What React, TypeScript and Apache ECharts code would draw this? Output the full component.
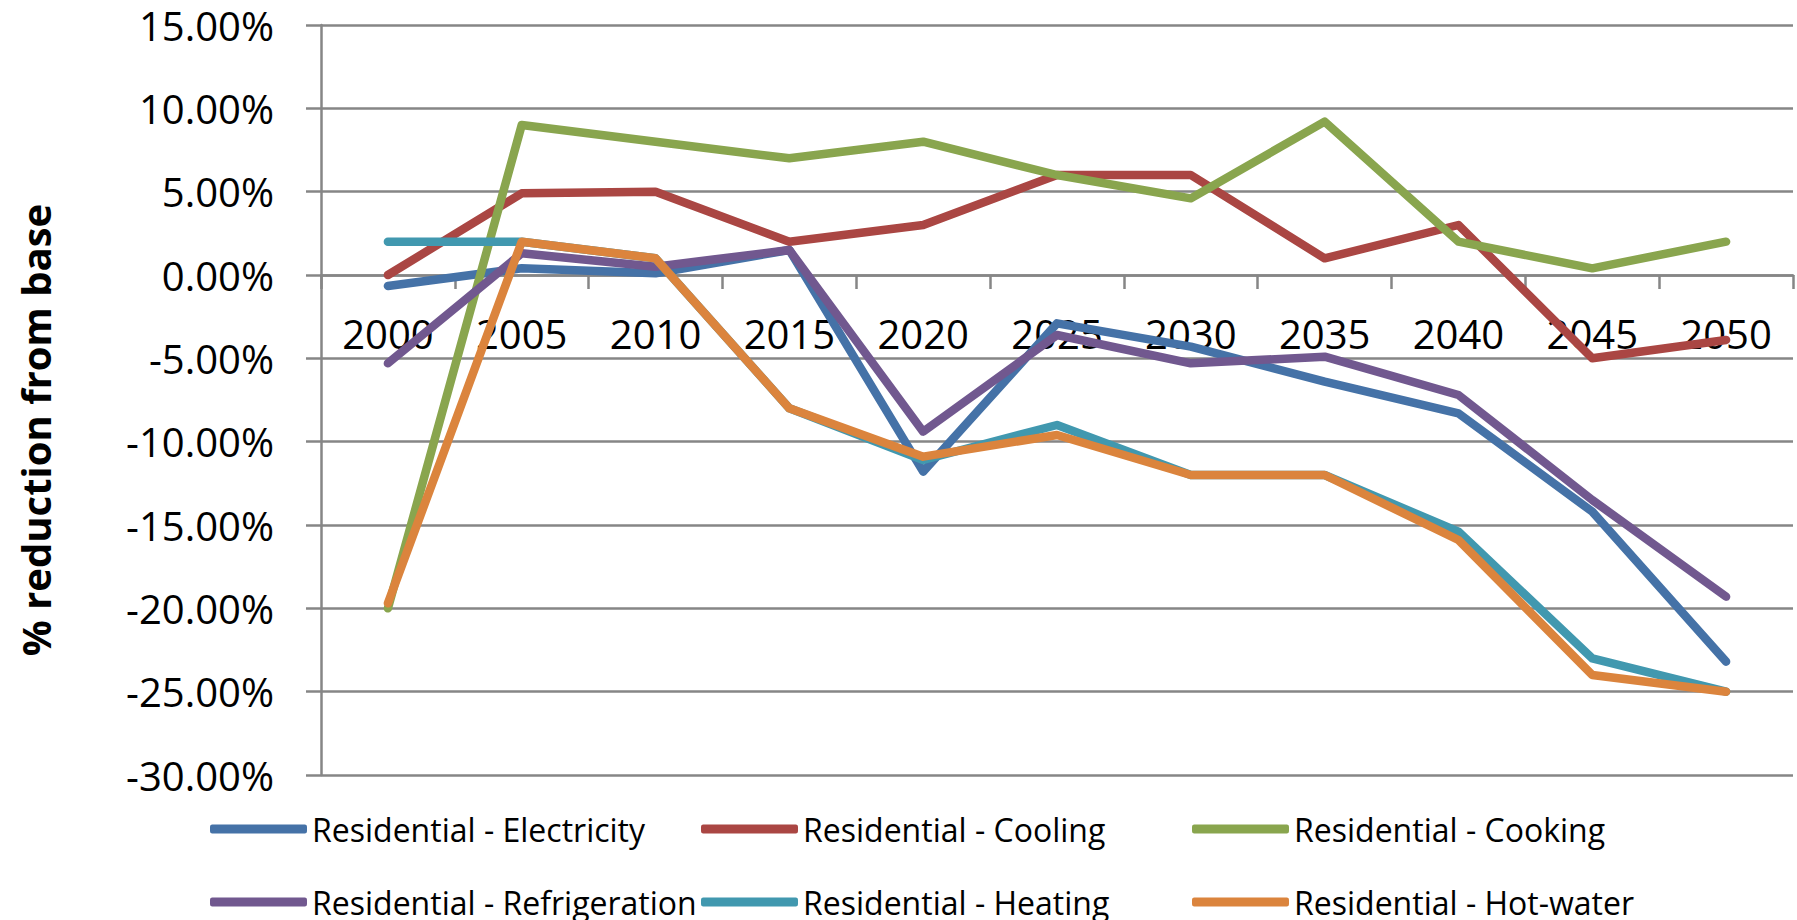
import React, { useEffect, useRef } from "react";
import * as echarts from "echarts";

const years = ["2000", "2005", "2010", "2015", "2020", "2025", "2030", "2035", "2040", "2045", "2050"];
const electricity = [-0.66, 0.4, 0.1, 1.5, -11.8, -2.9, -4.3, -6.4, -8.3, -14.2, -23.2];
const cooling = [0, 4.9, 5.0, 2.0, 3.0, 6.0, 6.0, 1.0, 3.0, -5.0, -3.9];
const cooking = [-20, 9.0, 8.0, 7.0, 8.0, 6.0, 4.6, 9.2, 2.0, 0.4, 2.0];
const refrigeration = [-5.3, 1.3, 0.5, 1.5, -9.4, -3.6, -5.3, -4.9, -7.2, -13.5, -19.3];
const heating = [2.0, 2.0, 1.0, -8.0, -11.1, -9.0, -12.0, -12.0, -15.4, -23.0, -25.0];
const hotWater = [-19.7, 2.0, 1.0, -8.0, -10.9, -9.6, -12.0, -12.0, -15.9, -24.0, -25.0];

const seriesNames = [
  "Residential - Electricity",
  "Residential - Cooling",
  "Residential - Cooking",
  "Residential - Refrigeration",
  "Residential - Heating",
  "Residential - Hot-water",
];
const seriesData = [electricity, cooling, cooking, refrigeration, heating, hotWater];
const colors = ["#4572A7", "#AA4643", "#89A54E", "#71588F", "#4198AF", "#DB843D"];

const yTitle = "% reduction from base";
const FONT = "'Open Sans', sans-serif";
const GRID = "#868686";

// legend slots: [left, top] for each series, in series order
const legendLefts = [210, 701, 1192, 210, 701, 1192];
const legendTops = [812, 812, 812, 885, 885, 885];

export default function App() {
  const ref = useRef<HTMLDivElement>(null);
  useEffect(() => {
    document.body.style.margin = "0";
    const chart = echarts.init(ref.current!, null, { renderer: "svg" });
    chart.setOption({
      animation: false,
      backgroundColor: "#fff",
      color: colors,
      grid: { left: 321, right: 4, top: 25, bottom: 145, containLabel: false },
      legend: seriesNames.map((name, i) => ({
        left: legendLefts[i],
        top: legendTops[i],
        orient: "horizontal",
        padding: 0,
        icon: "roundRect",
        itemWidth: 97,
        itemHeight: 9,
        data: [name],
        textStyle: { fontSize: 32, fontFamily: FONT, color: "#000", lineHeight: 34 },
      })),
      xAxis: {
        type: "category",
        data: years,
        boundaryGap: true,
        offset: -500,
        axisLine: { onZero: false, lineStyle: { color: GRID, width: 2.5 } },
        axisTick: { show: true, length: 14, lineStyle: { color: GRID, width: 2.5 } },
        axisLabel: { color: "#000", fontSize: 40, fontFamily: FONT, margin: 38, interval: 0 },
        splitLine: { show: false },
      },
      yAxis: {
        type: "value",
        min: -30,
        max: 15,
        interval: 5,
        axisLine: { show: true, lineStyle: { color: GRID, width: 2.5 } },
        axisTick: { show: true, length: 15, lineStyle: { color: GRID, width: 2.5 } },
        axisLabel: {
          color: "#000",
          fontSize: 40,
          lineHeight: 40,
          fontFamily: FONT,
          margin: 47,
          formatter: (v: number) => v.toFixed(2) + "%",
        },
        splitLine: { show: true, lineStyle: { color: GRID, width: 2.5 } },
      },
      graphic: [
        {
          type: "text",
          x: 35,
          y: 430,
          rotation: Math.PI / 2,
          style: {
            text: yTitle,
            fontSize: 40,
            fontWeight: "bold",
            fontFamily: FONT,
            fill: "#000",
            align: "center",
            verticalAlign: "middle",
          },
        },
      ],
      series: seriesNames.map((name, i) => ({
        name,
        type: "line",
        data: seriesData[i],
        symbol: "none",
        showSymbol: false,
        lineStyle: { width: 8.5, color: colors[i], cap: "round", join: "round" },
        itemStyle: { color: colors[i] },
      })),
    });
    return () => chart.dispose();
  }, []);
  return (
    <div
      ref={ref}
      style={{ position: "absolute", left: 0, top: 0, width: 1797, height: 920 }}
    />
  );
}
